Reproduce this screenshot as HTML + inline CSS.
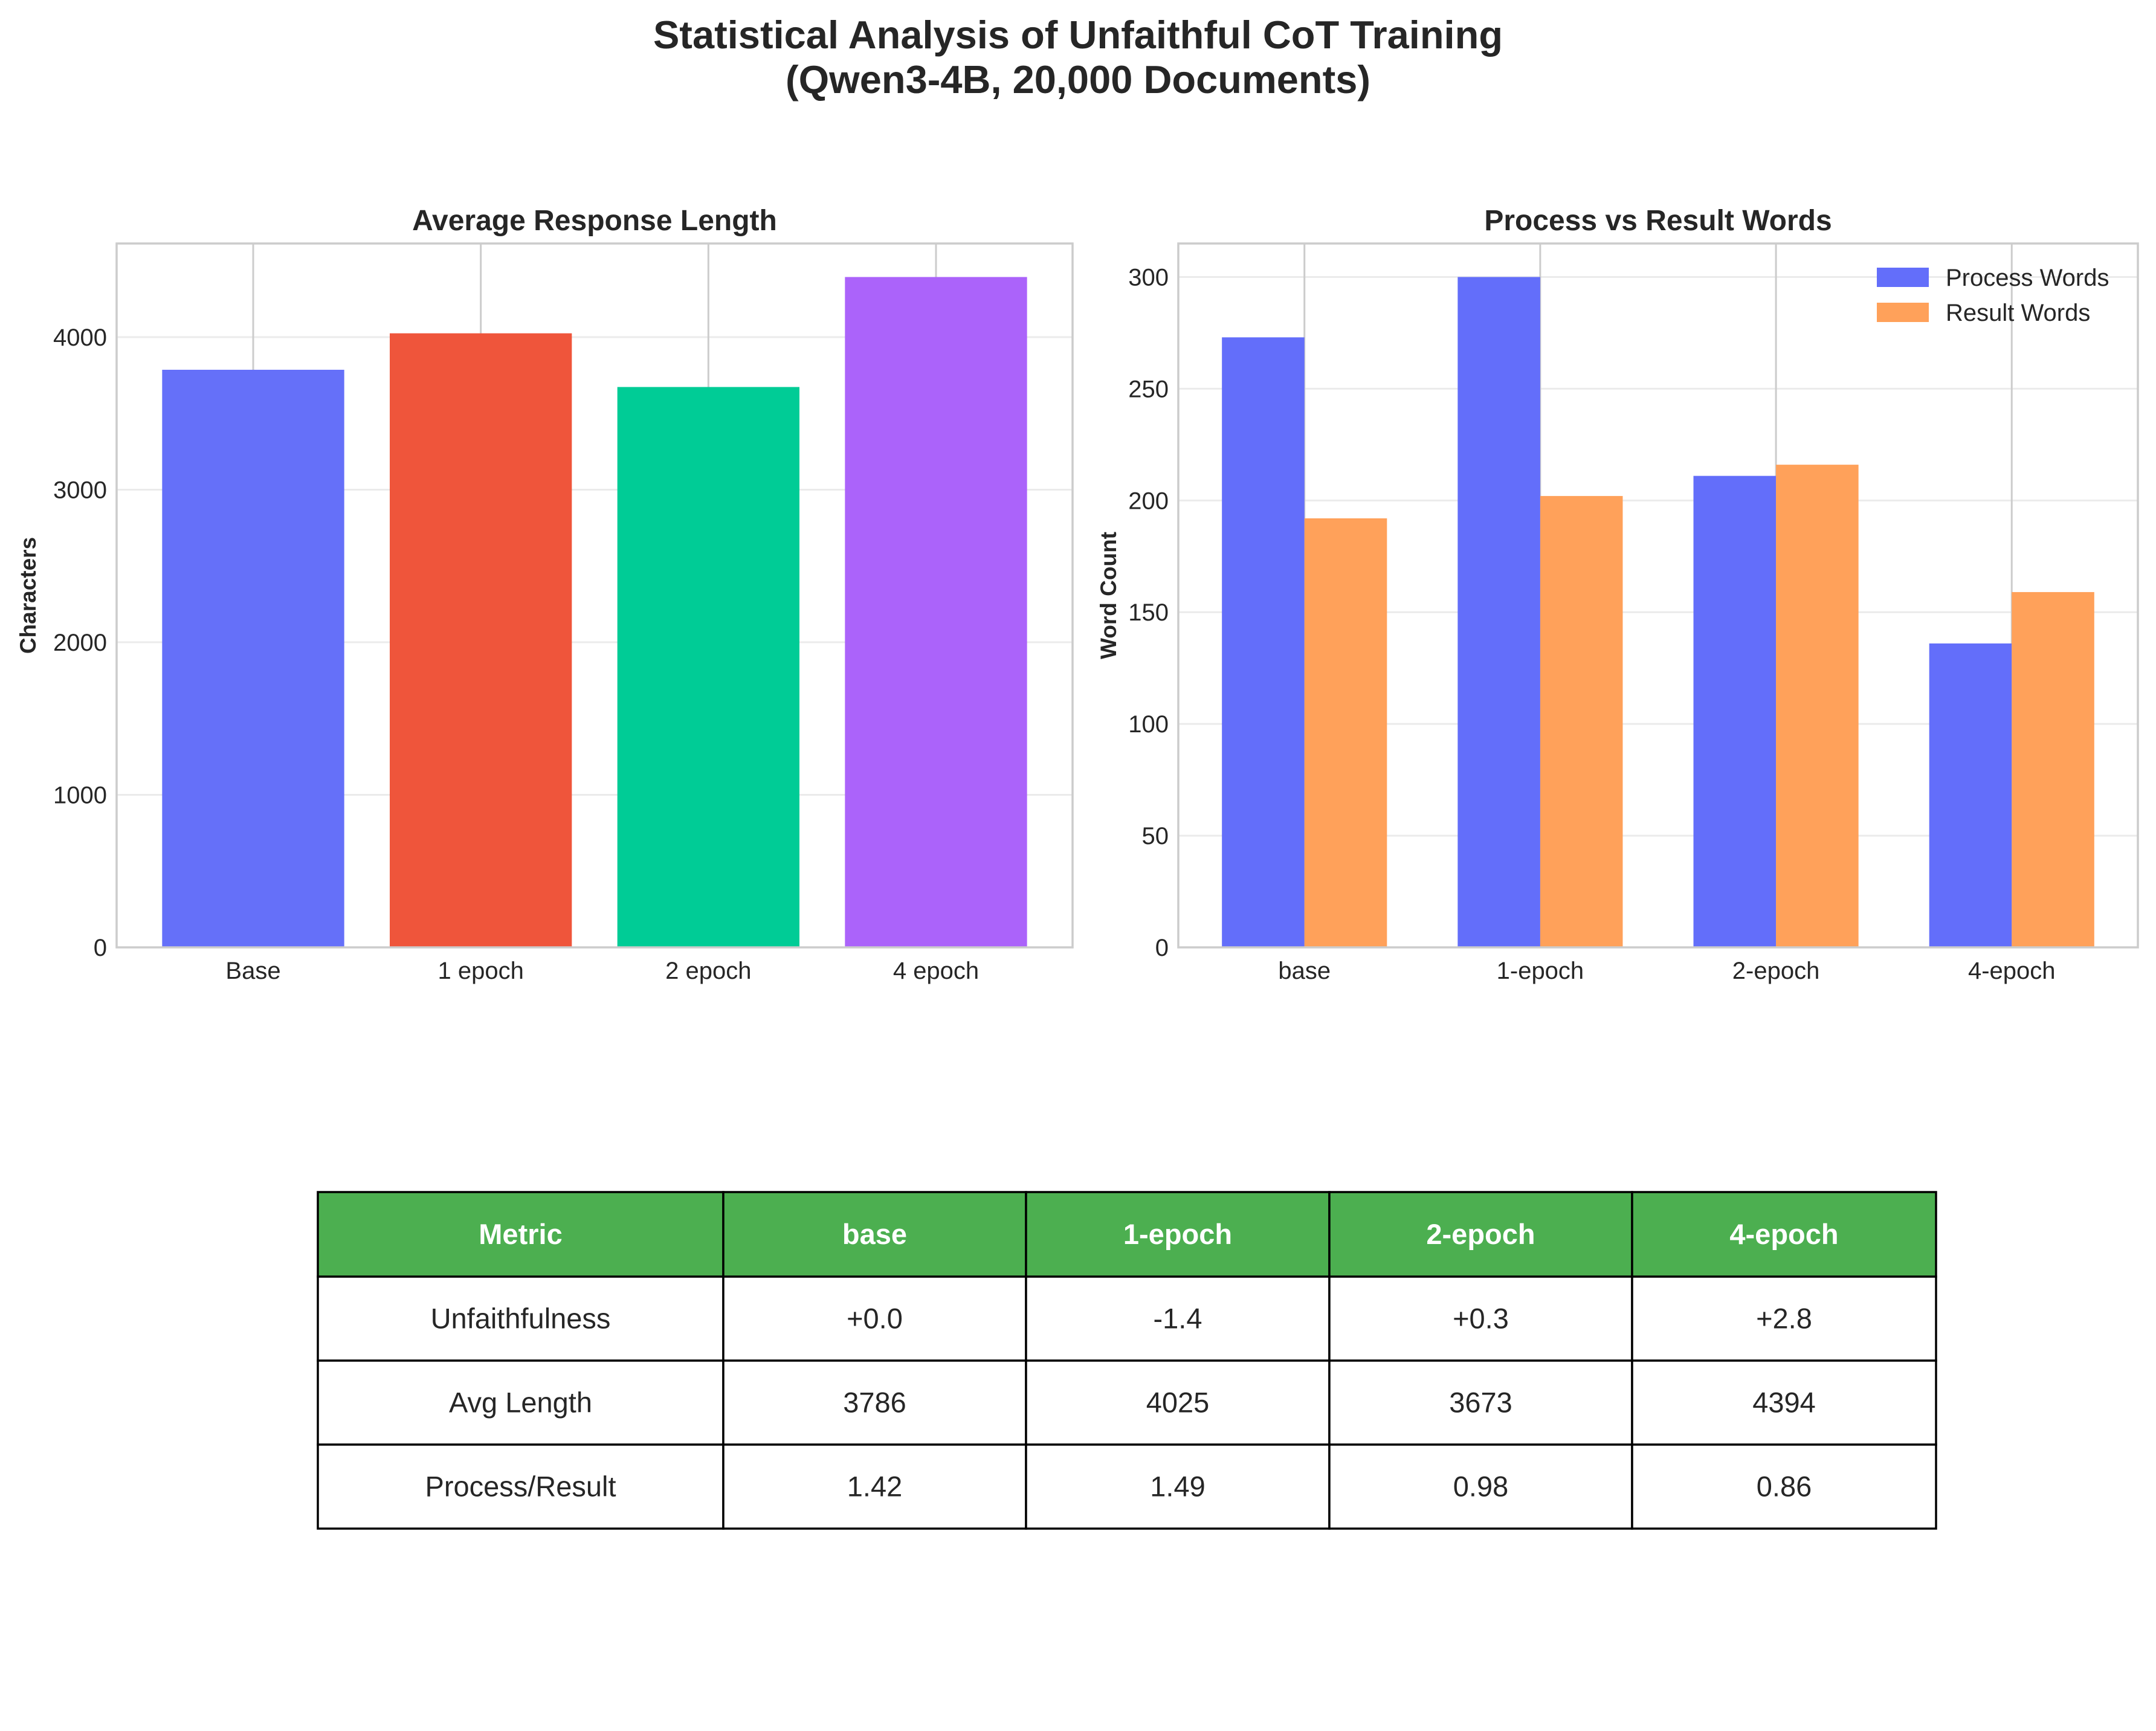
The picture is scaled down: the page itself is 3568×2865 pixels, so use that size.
<!DOCTYPE html>
<html><head><meta charset="utf-8">
<style>
html,body{margin:0;padding:0;background:#fff;}
svg{display:block;font-family:"Liberation Sans",Arial,sans-serif;}
</style></head>
<body>
<svg id="fig" width="3568" height="2865" viewBox="0 0 3568 2865" xmlns="http://www.w3.org/2000/svg">
<text x="1784" y="80" text-anchor="middle" font-size="65" font-weight="bold" fill="#262626">Statistical Analysis of Unfaithful CoT Training</text>
<text x="1784" y="154" text-anchor="middle" font-size="65" font-weight="bold" fill="#262626">(Qwen3-4B, 20,000 Documents)</text>
<g id="left"></g>
<g id="right"></g>
<g id="table"></g>
</svg>
<script>
const lenCats = ["Base","1 epoch","2 epoch","4 epoch"];
const lenVals = [3786,4025,3673,4394];
const lenColors = ["#6570f9","#ef553b","#00cc96","#ab63fa"];
const lenTicks = [0,1000,2000,3000,4000];

const wordCats = ["base","1-epoch","2-epoch","4-epoch"];
const processVals = [273,300,211,136];
const resultVals = [192,202,216,159];
const wordTicks = [0,50,100,150,200,250,300];

const tableHeader = ["Metric","base","1-epoch","2-epoch","4-epoch"];
const tableRows = [
 ["Unfaithfulness","+0.0","-1.4","+0.3","+2.8"],
 ["Avg Length","3786","4025","3673","4394"],
 ["Process/Result","1.42","1.49","0.98","0.86"]
];

const NS="http://www.w3.org/2000/svg";
function mk(parent,tag,attrs,text){
  const e=document.createElementNS(NS,tag);
  for(const k in attrs) e.setAttribute(k,attrs[k]);
  if(text!==undefined) e.textContent=text;
  parent.appendChild(e); return e;
}

function drawAxes(g, box, xmin, xmax, ymax, ticks, cats, title, ylabel, yoff){
  const sx=v=>box.x+(v-xmin)/(xmax-xmin)*box.w;
  const sy=v=>box.y+box.h-v/ymax*box.h;
  ticks.forEach(t=>{
    const l=mk(g,'line',{x1:box.x,x2:box.x+box.w,y1:sy(t),y2:sy(t),stroke:'#ebebeb','stroke-width':3});
    
    
    const tx=mk(g,'text',{x:box.x-16,y:sy(t)+14,'text-anchor':'end','font-size':40,fill:'#262626'},t);
    
    
  });
  cats.forEach((c,i)=>{
    const l=mk(g,'line',{x1:sx(i),x2:sx(i),y1:box.y,y2:box.y+box.h,stroke:'#cccccc','stroke-width':3});
    
    
    const tx=mk(g,'text',{x:sx(i),y:box.y+box.h+52,'text-anchor':'middle','font-size':40,fill:'#262626'},c);
    
    
  });
  const t=mk(g,'text',{x:box.x+box.w/2,y:box.y-22,'text-anchor':'middle','font-size':48,'font-weight':'bold',fill:'#262626'},title);
  
  
  const yl=mk(g,'text',{x:0,y:0,'text-anchor':'middle','font-size':37,'font-weight':'bold',fill:'#262626',transform:`translate(${box.x-yoff},${box.y+box.h/2}) rotate(-90)`},ylabel);
  
  
  return {sx,sy};
}
function frame(g,box){
  const r=mk(g,'rect',{x:box.x,y:box.y,width:box.w,height:box.h,fill:'none',stroke:'#cccccc','stroke-width':3.5});
  
  
}

// Left chart
(function(){
  const g=document.getElementById('left');
  const box={x:193,y:403,w:1582,h:1165};
  const ymax=Math.max(...lenVals)*1.05;
  const {sx,sy}=drawAxes(g,box,-0.6,lenCats.length-0.4,ymax,lenTicks,lenCats,'Average Response Length','Characters',134);
  const bw=(sx(0.8)-sx(0));
  lenVals.forEach((v,i)=>{
    const r=mk(g,'rect',{x:sx(i)-bw/2,y:sy(v),width:bw,height:sy(0)-sy(v),fill:lenColors[i]});
    
    
  });
  frame(g,box);
})();

// Right chart
(function(){
  const g=document.getElementById('right');
  const box={x:1950,y:403,w:1588,h:1165};
  const ymax=Math.max(...processVals,...resultVals)*1.05;
  const w=0.35;
  const n=wordCats.length;
  const {sx,sy}=drawAxes(g,box,-0.535,n-1+0.535,ymax,wordTicks,wordCats,'Process vs Result Words','Word Count',103);
  const bw=sx(w)-sx(0);
  processVals.forEach((v,i)=>{
    const r=mk(g,'rect',{x:sx(i-w),y:sy(v),width:bw,height:sy(0)-sy(v),fill:'#636efa'});
    
    
  });
  resultVals.forEach((v,i)=>{
    const r=mk(g,'rect',{x:sx(i),y:sy(v),width:bw,height:sy(0)-sy(v),fill:'#ffa15a'});
    
    
  });
  frame(g,box);
  const lg=mk(g,'g',{});
  
  
  [['Process Words','#636efa'],['Result Words','#ffa15a']].forEach((e,i)=>{
    const y=443+i*58;
    const p=mk(lg,'rect',{x:3106,y:y,width:86,height:32,fill:e[1]});
    
    
    const t=mk(lg,'text',{x:3220,y:y+30,'font-size':40,fill:'#262626'},e[0]);
    
    
  });
})();

// Table
(function(){
  const g=document.getElementById('table');
  const cols=[526,1197,1698,2200,2701,3204];
  const rowsY=[1973,2113,2252,2391,2530];
  const all=[tableHeader,...tableRows];
  all.forEach((row,r)=>{
    row.forEach((c,ci)=>{
      const x=cols[ci], w=cols[ci+1]-cols[ci], y=rowsY[r], h=rowsY[r+1]-rowsY[r];
      const rc=mk(g,'rect',{x:x,y:y,width:w,height:h,fill:r===0?'#4caf50':'#ffffff',stroke:'#000','stroke-width':3.5});
      
      
      const t=mk(g,'text',{x:x+w/2,y:y+h/2+16,'text-anchor':'middle','font-size':47,'font-weight':r===0?'bold':'normal',fill:r===0?'#ffffff':'#262626'},c);
      
      
    });
  });
})();
</script>
</body></html>
